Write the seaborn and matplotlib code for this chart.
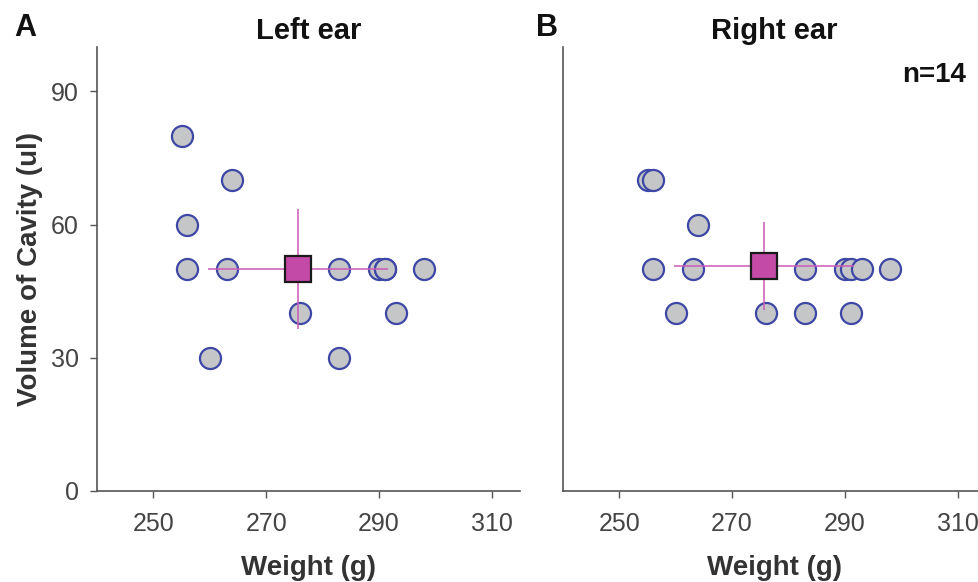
import numpy as np
import pandas as pd
import matplotlib
matplotlib.use("Agg")
import matplotlib.pyplot as plt
import seaborn as sns

# ---- data ----
weight = [255, 256, 256, 260, 263, 264, 276, 283, 283, 290, 291, 291, 293, 298]
left_volume = [80, 60, 50, 30, 50, 70, 40, 50, 30, 50, 50, 50, 40, 50]
right_volume = [70, 70, 50, 40, 50, 60, 40, 50, 40, 50, 50, 40, 50, 50]
panel_titles = ["Left ear", "Right ear"]
panel_letters = ["A", "B"]
x_ticks = [250, 270, 290, 310]
y_ticks = [0, 30, 60, 90]

sns.set_theme(style="ticks")
plt.rcParams['font.family'] = ['Liberation Sans', 'DejaVu Sans']

df = pd.DataFrame({"weight": weight, "Left ear": left_volume, "Right ear": right_volume})

fig = plt.figure(figsize=(9.79, 5.82), dpi=100)
axL = fig.add_axes([0.0991, 0.1564, 0.432, 0.7628])
axR = fig.add_axes([0.575, 0.1564, 0.432, 0.7628])

spine_col = "#555555"
for ax, title, letter in zip([axL, axR], panel_titles, panel_letters):
    sns.scatterplot(data=df, x="weight", y=title, ax=ax, s=230,
                    color="#c4c6c7", edgecolor="#3d47a6", linewidth=1.6, zorder=2)
    mx, my = np.mean(df["weight"]), np.mean(df[title])
    sx, sy = np.std(df["weight"], ddof=1), np.std(df[title], ddof=1)
    ax.errorbar(mx, my, xerr=sx, yerr=sy, fmt="none", ecolor="#cc5ab8",
                elinewidth=1.1, capsize=0, zorder=3)
    ax.plot(mx, my, marker="s", markersize=18.5, markerfacecolor="#c44aa8",
            markeredgecolor="#1a1a1a", markeredgewidth=1.6, zorder=4, linestyle="none")
    ax.set_xlim(240, 315)
    ax.set_ylim(0, 100)
    ax.set_xticks(x_ticks)
    ax.set_yticks(y_ticks)
    ax.set_xlabel("Weight (g)", fontsize=20, fontweight="bold", color="#333333", labelpad=14)
    ax.set_title(title, fontsize=21, fontweight="bold", color="#111111", pad=6)
    sns.despine(ax=ax)
    for sp in ["left", "bottom"]:
        ax.spines[sp].set_color(spine_col)
        ax.spines[sp].set_linewidth(1.2)
    ax.tick_params(axis="both", labelsize=18, colors=spine_col, labelcolor="#444444",
                   length=5, width=1.0, direction="out", pad=10)

axL.tick_params(axis="y", pad=8)
axL.set_ylabel("Volume of Cavity (ul)", fontsize=20, fontweight="bold", color="#333333", labelpad=6)
axR.set_ylabel("")
axR.tick_params(axis="y", left=False, labelleft=False)

fig.text(14 / 979, 1 - 28 / 582, "A", fontsize=22, fontweight="bold", color="#111111", va="center", ha="left")
fig.text(536 / 979, 1 - 28 / 582, "B", fontsize=22, fontweight="bold", color="#111111", va="center", ha="left")
fig.text(966 / 979, 1 - 75 / 582, "n=14", fontsize=20, fontweight="bold", color="#111111", va="center", ha="right")

fig.savefig("out.png", dpi=100)
